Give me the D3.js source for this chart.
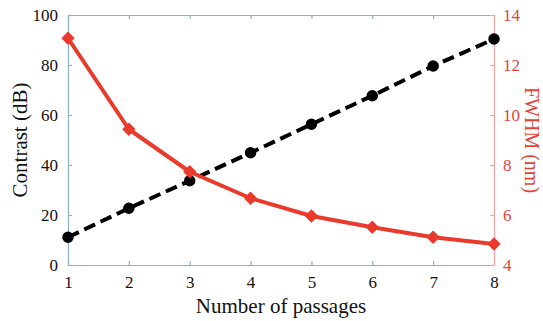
<!DOCTYPE html>
<html>
<head>
<meta charset="utf-8">
<script src="https://cdn.jsdelivr.net/npm/d3@7"></script>
<style>
  html, body { margin: 0; padding: 0; background: #fff; }
  svg { display: block; }
  svg text { font-family: "Liberation Serif", "Times New Roman", serif; }
</style>
</head>
<body>
<svg id="chart" width="543" height="321"></svg>
<script>
const passages = [1, 2, 3, 4, 5, 6, 7, 8];
const contrast = [11.1, 22.7, 33.7, 44.9, 56.3, 67.7, 79.6, 90.4];
const fwhm = [13.07, 9.43, 7.73, 6.67, 5.96, 5.51, 5.11, 4.84];
const leftTicks = [0, 20, 40, 60, 80, 100];
const rightTicks = [4, 6, 8, 10, 12, 14];
const xLabel = "Number of passages";
const leftLabel = "Contrast (dB)";
const rightLabel = "FWHM (nm)";

const svg = d3.select("#chart");
const L = 68, R = 494, T = 15, B = 265;
const x = d3.scaleLinear().domain([1, 8]).range([L, R]);
const yL = d3.scaleLinear().domain([0, 100]).range([B, T]);
const yR = d3.scaleLinear().domain([4, 14]).range([B, T]);

const axisCol = "#8fb0c2";
const pinkCol = "#f5a3a3";
const redCol = "#ea3a2c";
const redText = "#e0453a";

function style(g, col, txtCol) {
  g.attr("font-family", "Liberation Serif, serif").attr("font-size", 17);
  g.select(".domain").attr("stroke", col).attr("stroke-width", 1.2);
  g.selectAll(".tick line").attr("stroke", col).attr("stroke-width", 1.2);
  g.selectAll(".tick text").attr("fill", txtCol).attr("font-size", 17)
    .style("font-family", "'Liberation Serif', serif");
}

// top border
svg.append("g").attr("transform", `translate(0,${T})`)
  .call(d3.axisTop(x).tickValues(passages).tickSize(-4).tickSizeOuter(0).tickFormat(""))
  .call(g => style(g, axisCol, "#000"));

// bottom axis
svg.append("g").attr("transform", `translate(0,${B})`)
  .call(d3.axisBottom(x).tickValues(passages).tickSize(-4).tickSizeOuter(0).tickPadding(11).tickFormat(d3.format("d")))
  .call(g => style(g, axisCol, "#111"));

// left axis
svg.append("g").attr("transform", `translate(${L},0)`)
  .call(d3.axisLeft(yL).tickValues(leftTicks).tickSize(-4).tickSizeOuter(0).tickPadding(10))
  .call(g => style(g, axisCol, "#111"));

// right axis
svg.append("g").attr("transform", `translate(${R},0)`)
  .call(d3.axisRight(yR).tickValues(rightTicks).tickSize(-4).tickSizeOuter(0).tickPadding(9))
  .call(g => style(g, pinkCol, redText));

// contrast dashed line
const lineL = d3.line().x((d, i) => x(passages[i])).y(d => yL(d));
svg.append("path").datum(contrast)
  .attr("d", lineL).attr("fill", "none").attr("stroke", "#000")
  .attr("stroke-width", 4).attr("stroke-dasharray", "12,6");
svg.append("g").selectAll("circle").data(contrast).join("circle")
  .attr("cx", (d, i) => x(passages[i])).attr("cy", d => yL(d))
  .attr("r", 5).attr("fill", "#000").attr("stroke", "#000").attr("stroke-width", 1.5);

// FWHM red line
const lineR = d3.line().x((d, i) => x(passages[i])).y(d => yR(d));
svg.append("path").datum(fwhm)
  .attr("d", lineR).attr("fill", "none").attr("stroke", redCol)
  .attr("stroke-width", 4).attr("stroke-linejoin", "round");
svg.append("g").selectAll("path").data(fwhm).join("path")
  .attr("transform", (d, i) => `translate(${x(passages[i])},${yR(d)}) rotate(45)`)
  .attr("d", d3.symbol().type(d3.symbolSquare).size(64))
  .attr("fill", redCol).attr("stroke", redCol).attr("stroke-width", 1.5)
  .attr("stroke-linejoin", "round");

// titles
svg.append("text").attr("x", (L + R) / 2).attr("y", 313)
  .attr("text-anchor", "middle").attr("font-size", 21).attr("fill", "#111")
  .text(xLabel);
svg.append("text").attr("transform", `translate(27,${(T + B) / 2}) rotate(-90)`)
  .attr("text-anchor", "middle").attr("font-size", 21).attr("fill", "#111")
  .text(leftLabel);
svg.append("text").attr("transform", `translate(525,140) rotate(90)`)
  .attr("text-anchor", "middle").attr("font-size", 20).attr("fill", redText)
  .text(rightLabel);
</script>
</body>
</html>
